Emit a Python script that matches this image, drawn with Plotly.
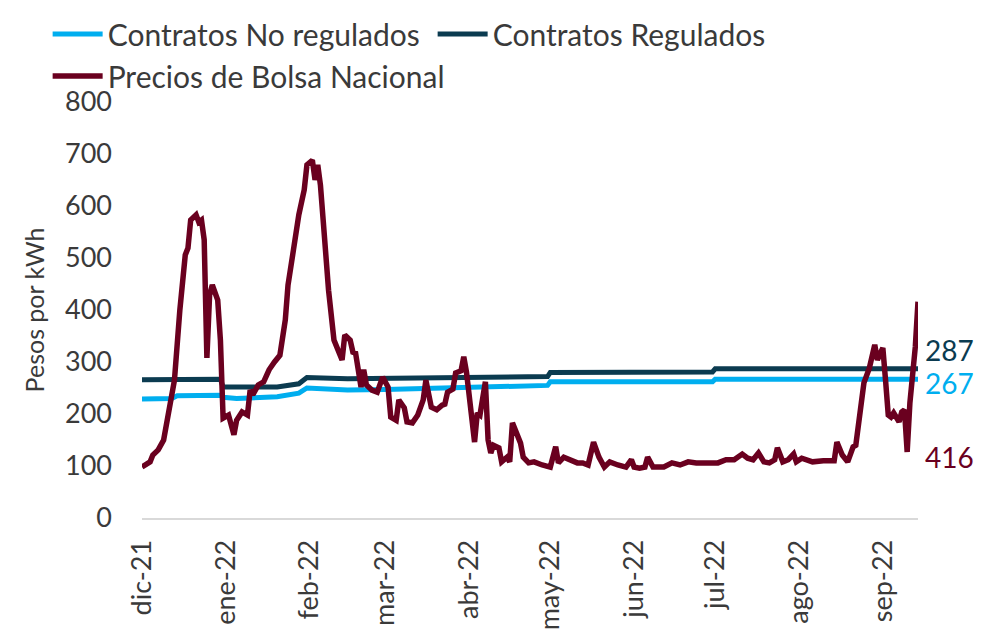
import plotly.graph_objects as go

# --- Data ---
price_dates = ["2021-12-01","2021-12-04","2021-12-05","2021-12-07","2021-12-09","2021-12-11","2021-12-13","2021-12-15",
"2021-12-17","2021-12-18","2021-12-19","2021-12-21","2021-12-22","2021-12-23","2021-12-24","2021-12-25","2021-12-26",
"2021-12-27","2021-12-29","2021-12-30","2021-12-31","2022-01-02","2022-01-04","2022-01-05","2022-01-07","2022-01-09",
"2022-01-10","2022-01-11","2022-01-13","2022-01-15","2022-01-17","2022-01-19","2022-01-21","2022-01-23","2022-01-24",
"2022-01-26","2022-01-28","2022-01-30","2022-01-31","2022-02-02","2022-02-03","2022-02-04","2022-02-05","2022-02-06",
"2022-02-08","2022-02-10","2022-02-13","2022-02-14","2022-02-16","2022-02-17","2022-02-18","2022-02-20","2022-02-21",
"2022-02-22","2022-02-24","2022-02-26","2022-02-28","2022-03-02","2022-03-03","2022-03-05","2022-03-06","2022-03-08",
"2022-03-09","2022-03-11","2022-03-13","2022-03-15","2022-03-16","2022-03-18","2022-03-20","2022-03-22","2022-03-23",
"2022-03-24","2022-03-26","2022-03-27","2022-03-29","2022-03-30","2022-03-31","2022-04-03","2022-04-04","2022-04-05",
"2022-04-07","2022-04-08","2022-04-09","2022-04-10","2022-04-12","2022-04-13","2022-04-15","2022-04-16","2022-04-17",
"2022-04-20","2022-04-21","2022-04-23","2022-04-25","2022-04-28","2022-05-01","2022-05-03","2022-05-04","2022-05-06",
"2022-05-08","2022-05-11","2022-05-13","2022-05-15","2022-05-17","2022-05-19","2022-05-21","2022-05-23","2022-05-26",
"2022-05-29","2022-05-31","2022-06-01","2022-06-03","2022-06-05","2022-06-06","2022-06-08","2022-06-12","2022-06-15",
"2022-06-18","2022-06-21","2022-06-24","2022-06-28","2022-07-02","2022-07-05","2022-07-08","2022-07-11","2022-07-13",
"2022-07-15","2022-07-17","2022-07-19","2022-07-21","2022-07-23","2022-07-24","2022-07-26","2022-07-28","2022-07-30",
"2022-07-31","2022-08-02","2022-08-06","2022-08-10","2022-08-14","2022-08-15","2022-08-17","2022-08-19","2022-08-21",
"2022-08-22","2022-08-24","2022-08-25","2022-08-27","2022-08-29","2022-08-30","2022-09-01","2022-09-02","2022-09-03",
"2022-09-04","2022-09-05","2022-09-07","2022-09-08","2022-09-09","2022-09-10","2022-09-11","2022-09-13","2022-09-14"]
price_values = [98,108,121,131,150,208,265,400,
506,519,573,583,569,573,535,308,429,
448,419,342,192,198,160,188,204,198,
246,237,256,262,285,300,313,381,448,
515,583,631,679,688,650,679,640,573,
438,342,304,352,342,319,317,252,285,
256,246,242,271,252,194,188,227,212,
185,183,198,227,265,213,208,217,219,
242,248,279,283,310,281,146,202,198,
262,150,125,140,135,108,117,108,183,
144,117,106,108,102,98,137,106,117,
112,106,106,102,146,117,98,108,102,
98,112,98,96,98,117,98,98,106,
102,108,106,106,106,112,112,123,115,
112,125,108,106,112,135,108,112,123,
108,115,108,110,110,146,121,108,137,
140,233,260,288,333,304,327,265,198,
194,202,185,204,208,127,221,329,416]

reg_dates = ["2021-12-01","2021-12-14","2021-12-30","2021-12-31","2022-01-20","2022-01-28","2022-01-31",
             "2022-02-15","2022-03-01","2022-04-01","2022-04-30","2022-05-01","2022-06-30","2022-07-01","2022-09-14"]
reg_values = [266,267,267,252,252,258,270,268,269,271,272,280,281,287,287]

noreg_dates = ["2021-12-01","2021-12-12","2021-12-14","2021-12-30","2021-12-31","2022-01-05","2022-01-20",
               "2022-01-28","2022-01-31","2022-02-15","2022-03-01","2022-04-01","2022-04-30","2022-05-01",
               "2022-06-30","2022-07-01","2022-09-14"]
noreg_values = [229,230,235,236,232,230,233,240,250,246,247,250,255,262,262,267,267]

tick_dates = ["2021-12-01","2022-01-01","2022-02-01","2022-03-01","2022-04-01","2022-05-01",
              "2022-06-01","2022-07-01","2022-08-01","2022-09-01"]
tick_labels = ["dic-21","ene-22","feb-22","mar-22","abr-22","may-22","jun-22","jul-22","ago-22","sep-22"]

C_NOREG = "#00aeef"
C_REG = "#0b3b50"
C_PRICE = "#6a001f"
FONT = "Lato"
TXT = "#3a3a3a"

fig = go.Figure()
fig.add_trace(go.Scatter(x=noreg_dates, y=noreg_values, mode="lines", name="Contratos No regulados",
                         line=dict(color=C_NOREG, width=5)))
fig.add_trace(go.Scatter(x=reg_dates, y=reg_values, mode="lines", name="Contratos Regulados",
                         line=dict(color=C_REG, width=5)))
fig.add_trace(go.Scatter(x=price_dates, y=price_values, mode="lines", name="Precios de Bolsa Nacional",
                         line=dict(color=C_PRICE, width=5.5)))

# End-value labels
fig.add_annotation(x=reg_dates[-1], y=reg_values[-1], text=str(reg_values[-1]), showarrow=False,
                   xanchor="left", xshift=5, yshift=19, font=dict(size=28, color=C_REG, family=FONT))
fig.add_annotation(x=noreg_dates[-1], y=noreg_values[-1], text=str(noreg_values[-1]), showarrow=False,
                   xanchor="left", xshift=5, yshift=-4, font=dict(size=28, color=C_NOREG, family=FONT))
fig.add_annotation(x=price_dates[-1], y=price_values[-1], text=str(price_values[-1]), showarrow=False,
                   xanchor="left", xshift=5, yshift=-155, font=dict(size=28, color=C_PRICE, family=FONT))

fig.update_layout(
    width=991, height=635,
    margin=dict(l=134, r=81, t=94, b=125, autoexpand=False),
    paper_bgcolor="white", plot_bgcolor="white",
    font=dict(family=FONT, color=TXT),
    showlegend=True,
    legend=dict(orientation="h", xref="container", yref="container", x=0.04, y=1.0,
                xanchor="left", yanchor="top", font=dict(size=30, color=TXT, family=FONT),
                entrywidth=320, entrywidthmode="pixels", itemwidth=50, tracegroupgap=0,
                bgcolor="rgba(0,0,0,0)"),
    xaxis=dict(type="date", range=[tick_dates[0], price_dates[-1]], tickmode="array",
               tickvals=tick_dates, ticktext=tick_labels, tickangle=-90,
               tickfont=dict(size=27, color=TXT, family=FONT), ticklabelstandoff=9,
               showgrid=False, showline=True, linecolor="#d9d9d9", linewidth=2,
               ticks="", zeroline=False),
    yaxis=dict(range=[0, 800], tickvals=[0,100,200,300,400,500,600,700,800],
               tickfont=dict(size=27, color=TXT, family=FONT), showgrid=False, zeroline=False,
               showline=False, ticks="", ticklabelstandoff=29,
               title=dict(text="Pesos por kWh", font=dict(size=25, color=TXT, family=FONT), standoff=13)),
)

fig.write_html("out.html")
